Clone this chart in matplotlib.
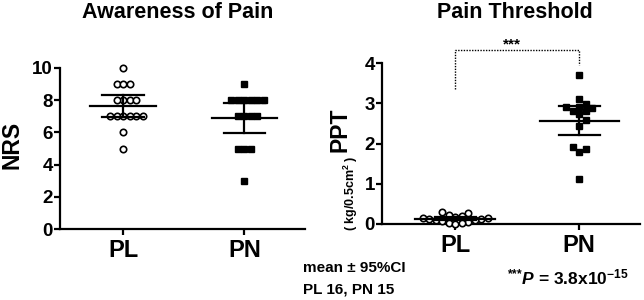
import numpy as np
import matplotlib
matplotlib.use("Agg")
import matplotlib.pyplot as plt

plt.rcParams['font.family'] = ['Liberation Sans', 'DejaVu Sans']
plt.rcParams['font.weight'] = 'bold'
plt.rcParams['mathtext.fontset'] = 'custom'
plt.rcParams['mathtext.rm'] = 'Liberation Sans:bold'
plt.rcParams['mathtext.it'] = 'Liberation Sans:italic:bold'
plt.rcParams['mathtext.bf'] = 'Liberation Sans:bold'

# --- data ---
groups = ["PL", "PN"]

nrs_pl = [10, 9, 9, 9, 8, 8, 8, 8, 7, 7, 7, 7, 7, 7, 6, 5]
nrs_pn = [9, 8, 8, 8, 8, 8, 8, 7, 7, 7, 7, 5, 5, 5, 3]
nrs_mean = [7.63, 6.87]
nrs_ci_lo = [6.95, 5.95]
nrs_ci_hi = [8.30, 7.80]

ppt_pl = [0.30, 0.28, 0.22, 0.20, 0.18, 0.15, 0.15, 0.13, 0.12,
          0.10, 0.10, 0.08, 0.05, 0.03, 0.02, 0.01]
ppt_pn = [3.70, 3.11, 2.98, 2.91, 2.91, 2.88, 2.81, 2.81, 2.73,
          2.58, 2.43, 1.91, 1.86, 1.79, 1.12]
ppt_mean = [0.13, 2.57]
ppt_ci_lo = [0.09, 2.21]
ppt_ci_hi = [0.17, 2.93]

W, H, DPI = 6.44, 3.0, 100


def swarm(values, px_per_x, px_per_y, diam=6.5):
    # simple beeswarm: place each point at the nearest free offset
    order = np.argsort(values)
    placed = []
    offs = np.zeros(len(values))
    step = diam / px_per_x
    for idx in order:
        y = values[idx]
        k = 0
        while True:
            cands = [0.0] if k == 0 else [k * step, -k * step]
            ok_c = None
            for c in cands:
                ok = True
                for (px, py) in placed:
                    dx = (c - px) * px_per_x
                    dy = (y - py) * px_per_y
                    if dx * dx + dy * dy < diam * diam * 0.95:
                        ok = False
                        break
                if ok:
                    ok_c = c
                    break
            if ok_c is not None:
                offs[idx] = ok_c
                placed.append((ok_c, y))
                break
            k += 1
    return offs


def panel(ax, data, means, lo, hi, ylim, yticks, mean_hw, cap_hw, px_x, px_y):
    for i, vals in enumerate(data):
        vals = np.array(vals, dtype=float)
        off = swarm(vals, px_x, px_y)
        if i == 0:
            ax.plot(i + off, vals, 'o', ms=4.6, mfc='white', mec='black', mew=1.2,
                    linestyle='none', zorder=3, clip_on=False)
        else:
            ax.plot(i + off, vals, 's', ms=4.0, mfc='black', mec='black',
                    linestyle='none', zorder=3, clip_on=False)
        ax.plot([i - mean_hw, i + mean_hw], [means[i], means[i]], color='black', lw=1.6, zorder=4)
        ax.plot([i - cap_hw, i + cap_hw], [lo[i], lo[i]], color='black', lw=1.6, zorder=4)
        ax.plot([i - cap_hw, i + cap_hw], [hi[i], hi[i]], color='black', lw=1.6, zorder=4)
        ax.plot([i, i], [lo[i], hi[i]], color='black', lw=1.6, zorder=4)
    ax.set_ylim(*ylim)
    ax.set_yticks(yticks)
    ax.set_xticks([0, 1])
    ax.set_xticklabels(groups, fontsize=17, fontweight='bold')
    for s in ['top', 'right']:
        ax.spines[s].set_visible(False)
    for s in ['left', 'bottom']:
        ax.spines[s].set_linewidth(1.6)
    ax.tick_params(axis='y', labelsize=13.5, width=1.6, length=4, pad=1)
    ax.tick_params(axis='x', width=1.6, length=4, pad=3)
    for lab in ax.get_yticklabels():
        lab.set_fontweight('bold')


fig = plt.figure(figsize=(W, H), dpi=DPI)

# left panel
ax1 = fig.add_axes([60 / 644, 71 / 300, 245 / 644, 161 / 300])
ax1.set_xlim(-0.52, 1.5)
panel(ax1, [nrs_pl, nrs_pn], nrs_mean, nrs_ci_lo, nrs_ci_hi, (0, 10), [0, 2, 4, 6, 8, 10],
      0.27, 0.17, 121.0, 16.1)
fig.text(178 / 644, 1 - 13 / 300, "Awareness of Pain", ha='center', va='center',
         fontsize=15.5, fontweight='bold')
fig.text(12 / 644, 1 - 145 / 300, "NRS", rotation=90, ha='center', va='center',
         fontsize=16.5, fontweight='bold')

# right panel
ax2 = fig.add_axes([382 / 644, 76 / 300, 258 / 644, 161 / 300])
ax2.set_xlim(-0.59, 1.49)
panel(ax2, [ppt_pl, ppt_pn], ppt_mean, ppt_ci_lo, ppt_ci_hi, (0, 4), [0, 1, 2, 3, 4],
      0.32, 0.165, 124.0, 40.25)
fig.text(515 / 644, 1 - 13 / 300, "Pain Threshold", ha='center', va='center',
         fontsize=15.5, fontweight='bold')
fig.text(340 / 644, 1 - 130 / 300, "PPT", rotation=90, ha='center', va='center',
         fontsize=16.5, fontweight='bold')
fig.text(351 / 644, 1 - 193 / 300, "( kg/0.5cm$^2$ )", rotation=90, ha='center', va='center',
         fontsize=9, fontweight='bold')

# significance bracket
ax2.plot([0, 0, 1, 1], [3.35, 4.32, 4.32, 3.95], color='black', lw=1.0,
         linestyle=(0, (1, 1)), clip_on=False)
ax2.text(0.46, 4.45, "***", ha='center', va='center', fontsize=11, fontweight='bold')

# notes
fig.text(303 / 644, 1 - 268 / 300, "mean \u00b1 95%CI", ha='left', va='center',
         fontsize=11, fontweight='bold')
fig.text(303 / 644, 1 - 289 / 300, "PL 16, PN 15", ha='left', va='center',
         fontsize=11, fontweight='bold')
fig.text(507 / 644, 1 - 277 / 300, r"$^{{*}{*}{*}}\mathit{P}$ = 3.8x10$^{-15}$", ha='left',
         va='center', fontsize=12.5, fontweight='bold')

fig.savefig("out.png", dpi=DPI)
